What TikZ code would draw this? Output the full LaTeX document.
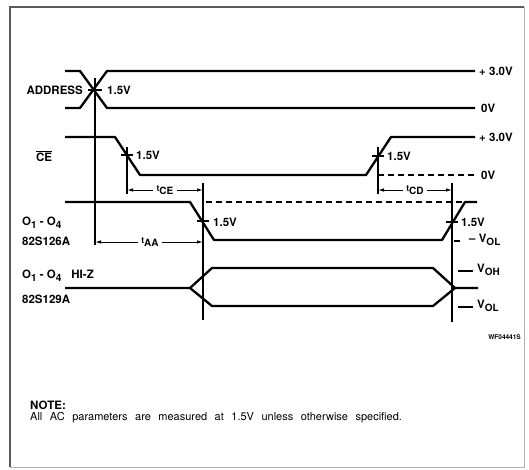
\documentclass[tikz,border=0pt]{standalone}
\usepackage{fontspec}
\setmainfont{TeX Gyre Heros}
\usetikzlibrary{arrows.meta}

\tikzset{
  sig/.style={line width=2.3pt, line join=round},
  refline/.style={line width=1.1pt},
  dashline/.style={line width=1.2pt, dash pattern=on 6pt off 4pt},
  lbl/.style={font=\bfseries\fontsize{11.5}{13}\selectfont, inner sep=0pt},
  tlbl/.style={lbl, inner xsep=3pt},
  dimarrow/.style={line width=1pt, -{Latex[length=6pt,width=3.5pt]}}
}
\newcommand{\subl}[1]{\raisebox{-3pt}{\fontsize{10}{11}\selectfont #1}}
\newcommand{\tpar}[1]{{\fontsize{8.5}{9}\selectfont t}\subl{#1}}

\begin{document}
\begin{tikzpicture}[x=1pt,y=-1pt]
  \useasboundingbox (0,0) rectangle (529,469);
  % frame
  \draw[line width=1.2pt, black!65] (524,7) -- (10,7) -- (10,467);
  \draw[line width=1pt, black!30] (524,7) -- (524,467) -- (10,467);

  % ADDRESS
  \draw[sig] (65,71) -- (80,71) -- (107,108) -- (475,108);
  \draw[sig] (65,108) -- (80,108) -- (107,71) -- (475,71);
  \draw[refline] (95,78) -- (95,245);
  \draw[refline] (88,90) -- (102,90);
  \node[lbl, anchor=east] (addr) at (83,90) {ADDRESS};
  \node[lbl, anchor=west] (addrv) at (107,90) {1.5V};
  \node[lbl, anchor=west] (addrhi) at (479,71) {+ 3.0V};
  \node[lbl, anchor=west] (addrlo) at (481,108) {0V};

  % CE
  \draw[sig] (65,137) -- (115,137) -- (140,175) -- (366,175) -- (391,137) -- (475,137);
  \draw[dashline] (378,175) -- (475,175);
  \draw[refline] (127,147) -- (127,194);
  \draw[refline] (121,155) -- (133,155);
  \draw[refline] (378,147) -- (378,194);
  \draw[refline] (372,156) -- (384,156);
  \node[lbl] (ce) at (44,156) {$\overline{\hbox{CE}}$};
  \node[lbl, anchor=west] (cefall) at (136,155) {1.5V};
  \node[lbl, anchor=west] (cerise) at (387,156) {1.5V};
  \node[lbl, anchor=west] (cehi) at (479,137) {+ 3.0V};
  \node[lbl, anchor=west] (celo) at (481,175) {0V};

  % O1 - O4 82S126A
  \draw[sig] (65,202) -- (190,202) -- (214,240) -- (442,240) -- (465,202) -- (477,202);
  \draw[dashline] (206,202) -- (463,202);
  \draw[refline] (203,183) -- (203,320);
  \draw[refline] (197,221) -- (209,221);
  \draw[refline] (452,183) -- (452,322);
  \draw[refline] (446,222) -- (458,222);
  \node[lbl, anchor=west] (oa) at (22,223) {O\subl{1} - O\subl{4}};
  \node[lbl, anchor=west] (oapart) at (22,241) {82S126A};
  \node[lbl, anchor=west] (oafall) at (213,222) {1.5V};
  \node[lbl, anchor=west] (oarise) at (461,222) {1.5V};
  \draw[refline] (454,241) -- (460,241);
  \node[lbl, anchor=west] (oavol) at (469,240) {-- V\subl{OL}};

  % O1 - O4 82S129A
  \draw[sig] (65,288) -- (190,288) -- (212,268) -- (433,268) -- (455,288) -- (478,288);
  \draw[sig] (190,288) -- (212,306) -- (433,306) -- (455,288);
  \node[lbl, anchor=west] (ob) at (22,276) {O\subl{1} - O\subl{4}\hspace{10pt}HI-Z};
  \node[lbl, anchor=west] (obpart) at (22,299) {82S129A};
  \draw[refline] (458,271) -- (473,271);
  \node[lbl, anchor=west] (obvoh) at (477,270) {V\subl{OH}};
  \draw[refline] (458,307) -- (473,307);
  \node[lbl, anchor=west] (obvol) at (477,306) {V\subl{OL}};

  % timing parameters
  \node[tlbl] (tce) at (165,190) {\tpar{CE}};
  \draw[dimarrow] (tce.west) -- (127,190);
  \draw[dimarrow] (tce.east) -- (203,190);
  \node[tlbl] (tcd) at (415,190) {\tpar{CD}};
  \draw[dimarrow] (tcd.west) -- (378,190);
  \draw[dimarrow] (tcd.east) -- (452,190);
  \node[tlbl] (taa) at (150,242) {\tpar{AA}};
  \draw[dimarrow] (taa.west) -- (95,242);
  \draw[dimarrow] (taa.east) -- (203,242);

  \node[font=\bfseries\fontsize{6.5}{7}\selectfont, anchor=east, inner sep=0pt] (wf) at (521,337) {WF04441S};

  % note
  \node[lbl, anchor=west] (note) at (30,405) {NOTE:};
  \node[font=\fontsize{11}{12}\selectfont, anchor=west, inner sep=0pt] (notetext) at (30,418) {\spaceskip=7.5pt\relax All AC parameters are measured at 1.5V unless otherwise specified.};
\end{tikzpicture}
\end{document}
